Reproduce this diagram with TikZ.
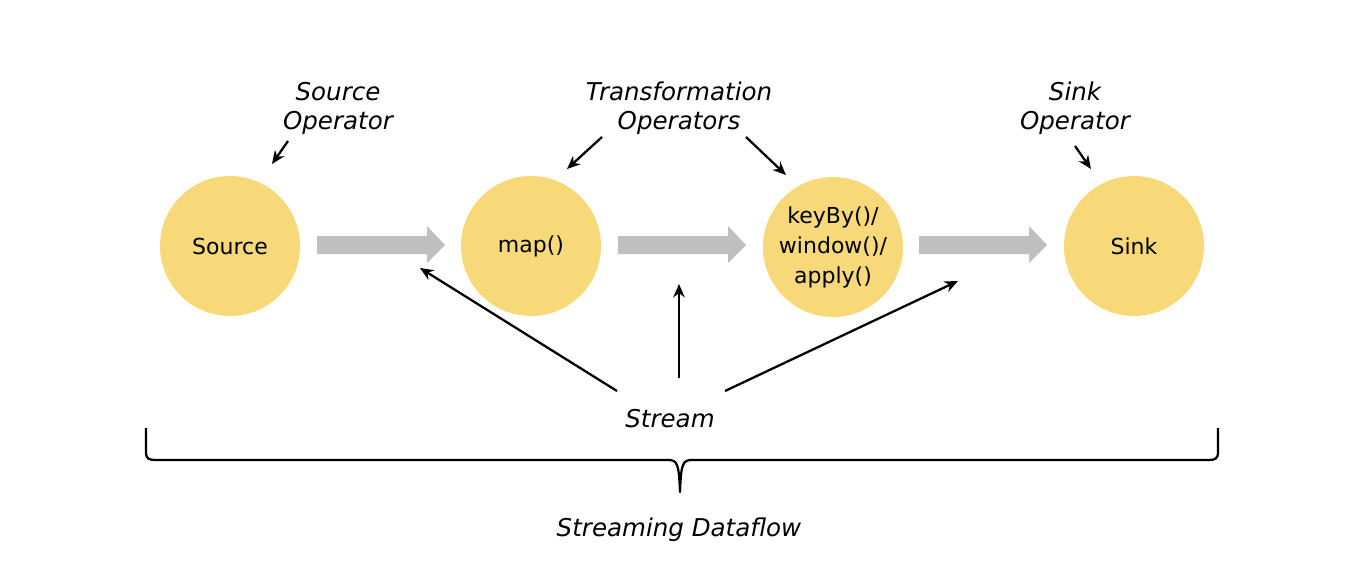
\documentclass[tikz,border=0pt]{standalone}
\usepackage{fontspec}
\setmainfont{DejaVu Sans}
\usetikzlibrary{arrows.meta}
\definecolor{opfill}{HTML}{F7D97A}
\definecolor{flowgray}{HTML}{BFBFBF}
\tikzset{
  opnode/.style={circle,fill=opfill,minimum size=105pt,inner sep=0pt,align=center,font=\fontsize{16.5}{22.5}\selectfont},
  lbl/.style={align=center,font=\fontsize{18.4}{21.75}\selectfont\itshape,inner sep=0pt},
  ptr/.style={line width=1.7pt,-{Stealth[length=10pt,width=8.5pt]}},
  flow/.style={fill=flowgray,draw=none}
}
\begin{document}
\begin{tikzpicture}[x=0.75pt,y=-0.75pt]
\useasboundingbox (0,0) rectangle (1350,564);
% operators
\node[opnode] (src) at (230,246) {Source};
\node[opnode] (map) at (531,246) {map()};
\node[opnode] (key) at (833,247) {keyBy()/\\window()/\\apply()};
\node[opnode] (snk) at (1134,246) {Sink};
% flow arrows
\foreach \a in {317,618,919}{
  \fill[flow] (\a,236) -- (\a+110,236) -- (\a+110,226) -- (\a+128,245) -- (\a+110,263) -- (\a+110,254) -- (\a,254) -- cycle;
}
% labels
\node[lbl] (lsrc) at (338,108) {Source\\Operator};
\node[lbl] (ltr) at (679,108) {Transformation\\Operators};
\node[lbl] (lsnk) at (1075,108) {Sink\\Operator};
\node[lbl] (strm) at (670,419) {Stream};
\node[lbl] (sdf) at (679,530) {Streaming Dataflow};
% label pointers
\coordinate (a1s) at (288,141); \coordinate (a1e) at (272,164);
\coordinate (a2s) at (602,137); \coordinate (a2e) at (567,169);
\coordinate (a3s) at (746,137); \coordinate (a3e) at (786,175);
\coordinate (a4s) at (1075,146); \coordinate (a4e) at (1091,169);
\draw[ptr] (a1s) -- (a1e);
\draw[ptr] (a2s) -- (a2e);
\draw[ptr] (a3s) -- (a3e);
\draw[ptr] (a4s) -- (a4e);
% stream pointers
\coordinate (s1s) at (617,391); \coordinate (s1e) at (420,268);
\coordinate (s2s) at (679,378); \coordinate (s2e) at (679,284);
\coordinate (s3s) at (725,391); \coordinate (s3e) at (958,281);
\draw[ptr] (s1s) -- (s1e);
\draw[ptr] (s2s) -- (s2e);
\draw[ptr] (s3s) -- (s3e);
% brace
\draw[line width=1.7pt,line join=round]
  (146,428) -- (146,452) .. controls (146,459) and (149,460) .. (156,460)
  -- (668,460) .. controls (677,460) and (679,463) .. (680,492)
  .. controls (681,463) and (683,460) .. (692,460)
  -- (1208,460) .. controls (1215,460) and (1218,459) .. (1218,452) -- (1218,428);
\end{tikzpicture}
\end{document}
